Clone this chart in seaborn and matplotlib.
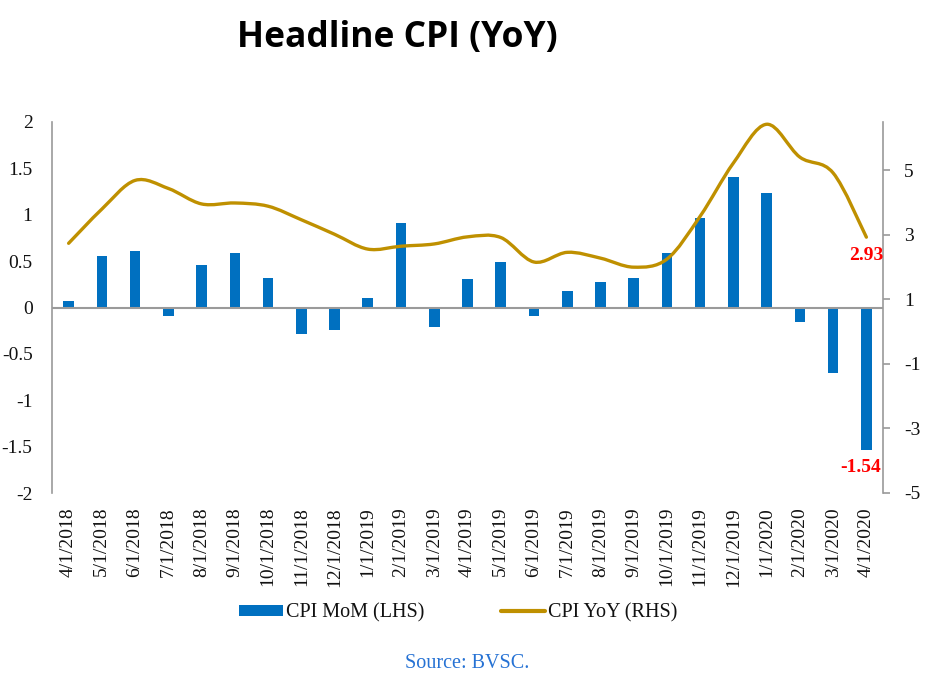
import numpy as np
import pandas as pd
import matplotlib
matplotlib.use("Agg")
import matplotlib.pyplot as plt
import seaborn as sns
from matplotlib.path import Path
from matplotlib.patches import PathPatch, Patch
from matplotlib.lines import Line2D

# ---------------- data ----------------
dates = ["4/1/2018", "5/1/2018", "6/1/2018", "7/1/2018", "8/1/2018", "9/1/2018",
         "10/1/2018", "11/1/2018", "12/1/2018", "1/1/2019", "2/1/2019", "3/1/2019",
         "4/1/2019", "5/1/2019", "6/1/2019", "7/1/2019", "8/1/2019", "9/1/2019",
         "10/1/2019", "11/1/2019", "12/1/2019", "1/1/2020", "2/1/2020", "3/1/2020",
         "4/1/2020"]
cpi_mom = [0.07, 0.56, 0.61, -0.09, 0.46, 0.59, 0.32, -0.29, -0.24, 0.10, 0.91, -0.21,
           0.31, 0.49, -0.09, 0.18, 0.27, 0.32, 0.59, 0.96, 1.41, 1.23, -0.16, -0.71,
           -1.54]
cpi_yoy = [2.74, 3.80, 4.69, 4.44, 3.96, 3.99, 3.89, 3.47, 3.02, 2.56, 2.65, 2.72,
           2.94, 2.92, 2.16, 2.46, 2.28, 2.00, 2.25, 3.58, 5.23, 6.43, 5.41, 4.92,
           2.93]
left_ticks = [-2, -1.5, -1, -0.5, 0, 0.5, 1, 1.5, 2]
right_ticks = [-5, -3, -1, 1, 3, 5]
series_names = ["CPI MoM (LHS)", "CPI YoY (RHS)"]
title_text = "Headline CPI (YoY)"
source_text = "Source: BVSC."

BAR_COLOR = "#0070C0"
LINE_COLOR = "#BF9000"
AXIS_GRAY = "#9a9a9a"

sns.set_theme(style="white")
plt.rcParams["font.family"] = ["Liberation Serif", "DejaVu Serif"]
plt.rcParams["axes.unicode_minus"] = False

W, H = 934, 677
fig = plt.figure(figsize=(W / 100, H / 100), dpi=100)
L, R, T, B = 52, 883, 122, 493
ax = fig.add_axes([L / W, 1 - B / H, (R - L) / W, (B - T) / H])

df = pd.DataFrame({"date": dates, "mom": cpi_mom})
sns.barplot(data=df, x="date", y="mom", ax=ax, color=BAR_COLOR, saturation=1,
            width=0.32, errorbar=None, edgecolor="none", zorder=2)
ax.set_xlim(-0.5, len(dates) - 0.5)
ax.set_ylim(-2, 2)
ax.set_yticks(left_ticks)
ax.set_yticklabels([f"{v:g}" for v in left_ticks], fontsize=14, color="#111111")
ax.set_xlabel("")
ax.set_ylabel("")
ax.tick_params(axis="y", length=0, pad=14)
ax.tick_params(axis="x", length=0, pad=10)
ax.set_xticks(range(len(dates)))
ax.set_xticklabels(dates, rotation=90, fontsize=14, color="#111111", va="top", ha="center")
for s in ["top", "right", "bottom"]:
    ax.spines[s].set_visible(False)
ax.spines["left"].set_color(AXIS_GRAY)
ax.spines["left"].set_linewidth(1.2)
ax.axhline(0, color=AXIS_GRAY, lw=1.5, zorder=3)
ax.grid(False)

# secondary axis with smoothed line
ax2 = ax.twinx()
ax2.set_ylim(-5, 6.5)
ax2.set_yticks(right_ticks)
ax2.set_yticklabels([f"{v:g}" for v in right_ticks], fontsize=14, color="#111111")
ax2.tick_params(axis="y", length=5, width=1.2, color=AXIS_GRAY, pad=10, direction="out")
for s in ["top", "left", "bottom"]:
    ax2.spines[s].set_visible(False)
ax2.spines["right"].set_color(AXIS_GRAY)
ax2.spines["right"].set_linewidth(1.2)
ax2.grid(False)

x = np.arange(len(cpi_yoy), dtype=float)
y = np.array(cpi_yoy, dtype=float)
n = len(x)
verts = [(x[0], y[0])]
codes = [Path.MOVETO]
for i in range(n - 1):
    p0 = i - 1 if i > 0 else i
    p3 = i + 2 if i + 2 < n else i + 1
    c1 = (x[i] + (x[i + 1] - x[p0]) / 6, y[i] + (y[i + 1] - y[p0]) / 6)
    c2 = (x[i + 1] - (x[p3] - x[i]) / 6, y[i + 1] - (y[p3] - y[i]) / 6)
    verts += [c1, c2, (x[i + 1], y[i + 1])]
    codes += [Path.CURVE4] * 3
ax2.add_patch(PathPatch(Path(verts, codes), fill=False, edgecolor=LINE_COLOR,
                        lw=2.4, capstyle="round", joinstyle="round", zorder=4))

# annotations for last values
ax2.annotate(f"{cpi_yoy[-1]:.2f}", xy=(x[-1], cpi_yoy[-1]), xytext=(0, -13),
             textcoords="offset points", ha="center", va="center",
             color="#FF0000", fontweight="bold", fontsize=14)
ax.annotate(f"{cpi_mom[-1]:.2f}", xy=(len(cpi_mom) - 1, cpi_mom[-1]), xytext=(-4.5, -12),
            textcoords="offset points", ha="center", va="center",
            color="#FF0000", fontweight="bold", fontsize=14)

# legend
handles = [Patch(facecolor=BAR_COLOR, edgecolor="none"),
           Line2D([0], [0], color=LINE_COLOR, lw=3)]
fig.legend(handles, series_names, loc="center", bbox_to_anchor=(458 / W, 1 - 613 / H),
           ncol=2, frameon=False, fontsize=14.5, handlelength=2.2, handleheight=0.45,
           handletextpad=0.15, columnspacing=3.8, labelcolor="#111111")

# title and source
fig.text(397 / W, 1 - 38 / H, title_text, ha="center", va="center", fontsize=25.5,
         fontweight="bold", family=["Open Sans", "DejaVu Sans"], color="#000000")
fig.text(467 / W, 1 - 663 / H, source_text, ha="center", va="center", fontsize=14.5,
         color="#2672D4")

fig.savefig("out.png", dpi=100)
